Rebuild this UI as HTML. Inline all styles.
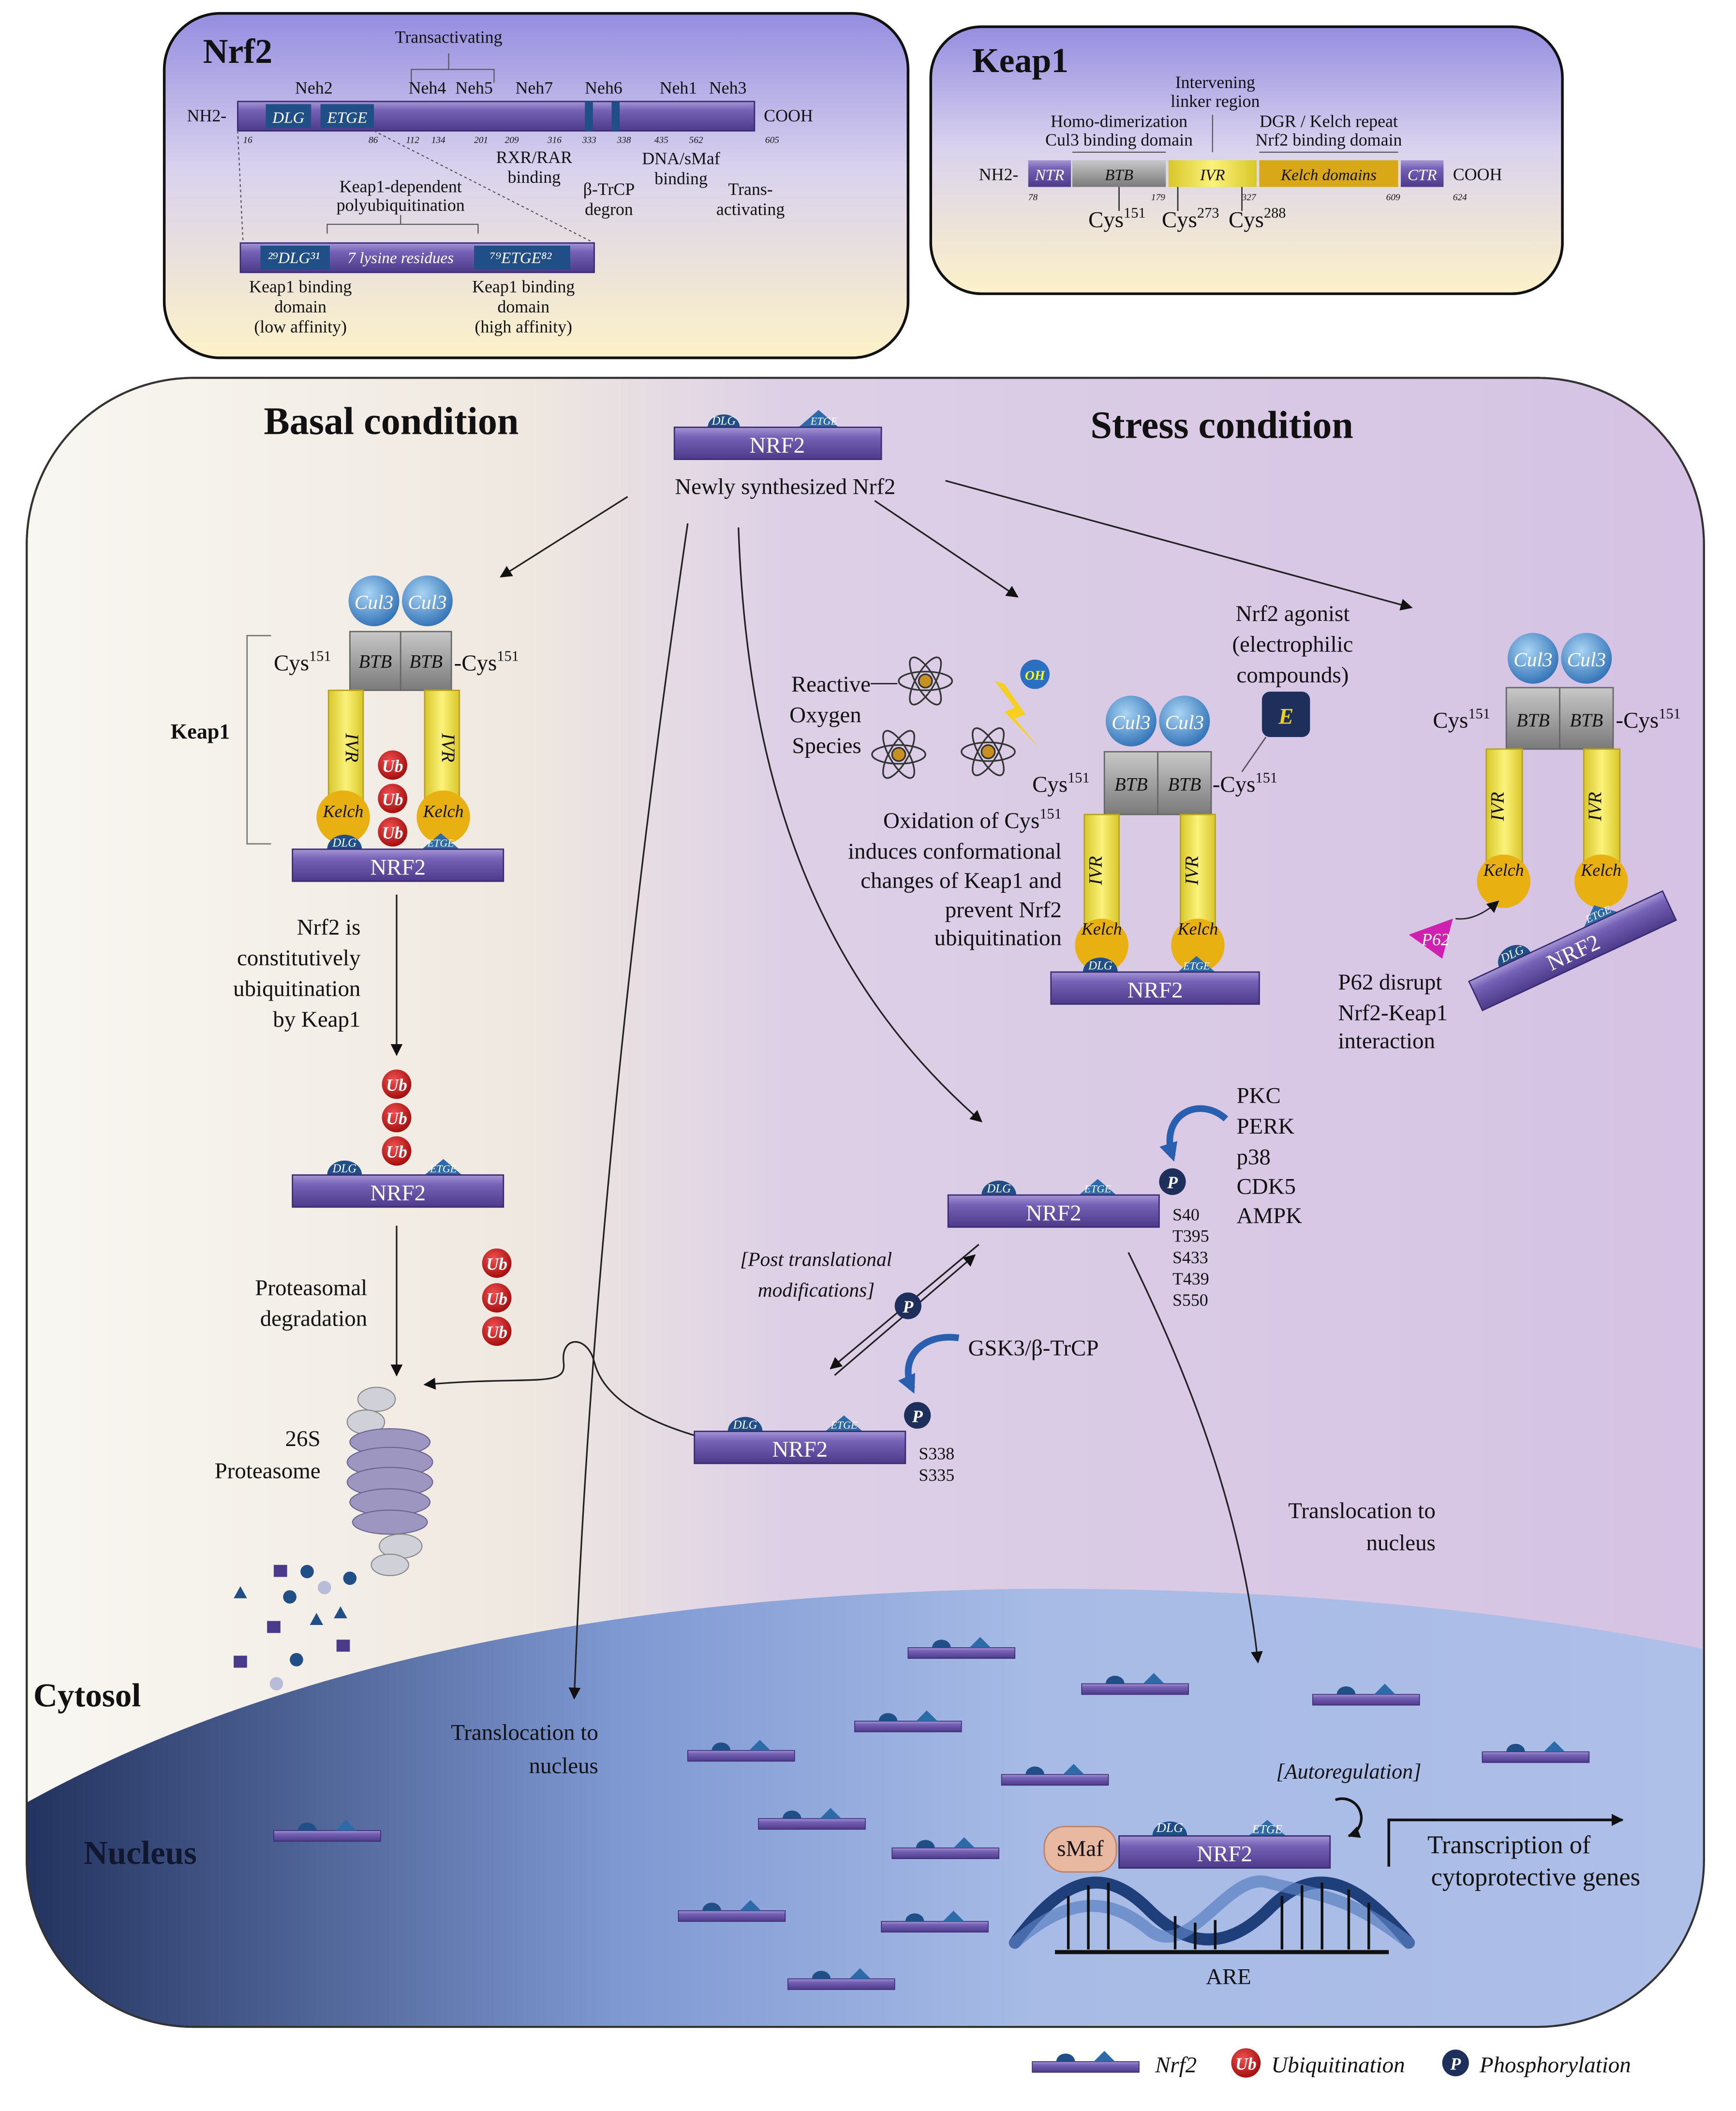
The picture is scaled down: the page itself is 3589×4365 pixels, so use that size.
<!DOCTYPE html>
<html><head><meta charset="utf-8"><style>
html,body{margin:0;padding:0;background:#fff}
svg{display:block}
text{font-family:"Liberation Serif",serif;fill:#111}
.s{font-size:17px}
.t{font-size:13px}
.w{fill:#fff}
.i{font-style:italic}
</style></head><body>
<svg width="3589" height="4365" viewBox="0 0 1300 1581" preserveAspectRatio="none" xmlns="http://www.w3.org/2000/svg">
<defs>
<linearGradient id="gbox" x1="0" y1="0" x2="0" y2="1"><stop offset="0" stop-color="#958de0"/><stop offset="0.45" stop-color="#d9d2ee"/><stop offset="1" stop-color="#fdf2c8"/></linearGradient>
<linearGradient id="gcell" x1="0" y1="0" x2="1" y2="0"><stop offset="0" stop-color="#f9f7f2"/><stop offset="0.3" stop-color="#efe8e0"/><stop offset="0.45" stop-color="#ddd0e6"/><stop offset="1" stop-color="#d5c2e4"/></linearGradient>
<linearGradient id="gnuc" x1="0" y1="0" x2="1" y2="0"><stop offset="0" stop-color="#23335f"/><stop offset="0.35" stop-color="#7e98d2"/><stop offset="0.6" stop-color="#a7bbe6"/><stop offset="1" stop-color="#aebfe8"/></linearGradient>
<linearGradient id="gbar" x1="0" y1="0" x2="0" y2="1"><stop offset="0" stop-color="#a596d6"/><stop offset="0.3" stop-color="#7662b6"/><stop offset="1" stop-color="#4d3a8a"/></linearGradient>
<linearGradient id="gyel" x1="0" y1="0" x2="1" y2="0"><stop offset="0" stop-color="#d8c72a"/><stop offset="0.5" stop-color="#fbf27a"/><stop offset="1" stop-color="#d8c72a"/></linearGradient>
<radialGradient id="gcul" cx="0.4" cy="0.35" r="0.7"><stop offset="0" stop-color="#a8d4f4"/><stop offset="1" stop-color="#2e6fb4"/></radialGradient>
<radialGradient id="gub" cx="0.4" cy="0.35" r="0.7"><stop offset="0" stop-color="#f05050"/><stop offset="1" stop-color="#a00a0a"/></radialGradient>
<linearGradient id="ggray" x1="0" y1="0" x2="0" y2="1"><stop offset="0" stop-color="#c8c8c8"/><stop offset="1" stop-color="#7a7a7a"/></linearGradient>
<marker id="ar" viewBox="0 0 10 10" refX="9" refY="5" markerWidth="9" markerHeight="9" markerUnits="userSpaceOnUse" orient="auto"><path d="M0,0L10,5L0,10z" fill="#111"/></marker>
<marker id="ab" viewBox="0 0 10 10" refX="7" refY="5" markerWidth="14" markerHeight="14" markerUnits="userSpaceOnUse" orient="auto"><path d="M0,0L10,5L0,10z" fill="#2a5fb0"/></marker>
<g id="sn"><rect x="0" y="4" width="80" height="8" fill="url(#gbar)" stroke="#3a2a70" stroke-width="0.6"/><path d="M18,4a7,6 0 0 1 14,0z" fill="#1f4f86"/><path d="M46,4l8,-8l8,8z" fill="#2d6aa8"/></g>
<g id="ub"><circle r="11" fill="url(#gub)"/><text x="0" y="5" text-anchor="middle" font-size="13" class="w i" font-weight="bold">Ub</text></g>
<g id="pp"><circle r="10" fill="#1d2f5a"/><text x="0" y="5" text-anchor="middle" font-size="13" class="w i" font-weight="bold">P</text></g>
<g id="cul"><circle r="19" fill="url(#gcul)"/></g>
</defs>

<rect x="123" y="10" width="557" height="258" rx="42" fill="url(#gbox)" stroke="#111" stroke-width="2"/>
<text x="152" y="47" font-size="26" font-weight="bold">Nrf2</text>
<text x="336" y="32" class="t" text-anchor="middle">Transactivating</text>
<path d="M308,62V52H370V62M336,52V40" fill="none" stroke="#555" stroke-width="0.8"/>
<g class="t" text-anchor="middle"><text x="235" y="70">Neh2</text><text x="320" y="70">Neh4</text><text x="355" y="70">Neh5</text><text x="400" y="70">Neh7</text><text x="452" y="70">Neh6</text><text x="508" y="70">Neh1</text><text x="545" y="70">Neh3</text></g>
<text x="140" y="91" class="t">NH2-</text><text x="572" y="91" class="t">COOH</text>
<rect x="178" y="76" width="387" height="22" fill="url(#gbar)" stroke="#3a2a70"/>
<rect x="199" y="78" width="34" height="18" fill="#1f4f86"/><rect x="240" y="78" width="40" height="18" fill="#1f4f86"/>
<rect x="438" y="76" width="6" height="22" fill="#1f4f86"/><rect x="458" y="76" width="6" height="22" fill="#1f4f86"/>
<text x="216" y="92" font-size="12" class="w i" text-anchor="middle">DLG</text><text x="260" y="92" font-size="12" class="w i" text-anchor="middle">ETGE</text>
<g font-size="7" class="i"><text x="182" y="107">16</text><text x="276" y="107">86</text><text x="304" y="107">112</text><text x="323" y="107">134</text><text x="355" y="107">201</text><text x="378" y="107">209</text><text x="410" y="107">316</text><text x="436" y="107">333</text><text x="462" y="107">338</text><text x="490" y="107">435</text><text x="516" y="107">562</text><text x="573" y="107">605</text></g>
<g class="t" text-anchor="middle"><text x="400" y="122">RXR/RAR</text><text x="400" y="137">binding</text><text x="456" y="146">β-TrCP</text><text x="456" y="161">degron</text><text x="510" y="123">DNA/sMaf</text><text x="510" y="138">binding</text><text x="562" y="146">Trans-</text><text x="562" y="161">activating</text><text x="300" y="144">Keap1-dependent</text><text x="300" y="158">polyubiquitination</text></g>
<path d="M178,98L182,182M280,98L445,182" stroke="#555" stroke-width="0.8" stroke-dasharray="2,2"/>
<path d="M245,175V168H358V175M300,168V161" fill="none" stroke="#555" stroke-width="0.8"/>
<rect x="180" y="182" width="265" height="22" fill="url(#gbar)" stroke="#3a2a70"/>
<rect x="195" y="184" width="52" height="18" fill="#1f4f86"/><rect x="355" y="184" width="72" height="18" fill="#1f4f86"/>
<text x="220" y="197" font-size="12" class="w i" text-anchor="middle">²⁹DLG³¹</text><text x="300" y="197" font-size="12" class="w i" text-anchor="middle">7 lysine residues</text><text x="390" y="197" font-size="12" class="w i" text-anchor="middle">⁷⁹ETGE⁸²</text>
<g class="t" text-anchor="middle"><text x="225" y="219">Keap1 binding</text><text x="225" y="234">domain</text><text x="225" y="249">(low affinity)</text><text x="392" y="219">Keap1 binding</text><text x="392" y="234">domain</text><text x="392" y="249">(high affinity)</text></g>

<rect x="697" y="20" width="473" height="200" rx="38" fill="url(#gbox)" stroke="#111" stroke-width="2"/>
<text x="728" y="54" font-size="26" font-weight="bold">Keap1</text>
<g class="t" text-anchor="middle"><text x="910" y="66">Intervening</text><text x="910" y="80">linker region</text><text x="838" y="95">Homo-dimerization</text><text x="838" y="109">Cul3 binding domain</text><text x="995" y="95">DGR / Kelch repeat</text><text x="995" y="109">Nrf2 binding domain</text></g>
<path d="M803,114H873M943,114H1047M908,86V114" stroke="#555" stroke-width="0.8"/>
<text x="733" y="135" class="t">NH2-</text><text x="1088" y="135" class="t">COOH</text>
<rect x="770" y="120" width="32" height="20" fill="url(#gbar)"/><rect x="803" y="120" width="70" height="20" fill="url(#ggray)"/><rect x="875" y="120" width="66" height="20" fill="url(#gyel)"/><rect x="943" y="120" width="104" height="20" fill="#d8a818"/><rect x="1049" y="120" width="32" height="20" fill="url(#gbar)"/>
<g font-size="12" class="i" text-anchor="middle"><text x="786" y="135" class="w">NTR</text><text x="838" y="135">BTB</text><text x="908" y="135">IVR</text><text x="995" y="135">Kelch domains</text><text x="1065" y="135" class="w">CTR</text></g>
<g font-size="7" class="i"><text x="770" y="150">78</text><text x="862" y="150">179</text><text x="930" y="150">327</text><text x="1038" y="150">609</text><text x="1088" y="150">624</text></g>
<path d="M838,140V158M882,140V158M930,140V158" stroke="#333"/>
<g font-size="17"><text x="815" y="170">Cys<tspan font-size="11" dy="-7">151</tspan></text><text x="870" y="170">Cys<tspan font-size="11" dy="-7">273</tspan></text><text x="920" y="170">Cys<tspan font-size="11" dy="-7">288</tspan></text></g>

<rect x="20" y="283" width="1256" height="1235" rx="125" fill="url(#gcell)" stroke="#333" stroke-width="1.5"/>
<clipPath id="cc"><rect x="20" y="283" width="1256" height="1235" rx="125"/></clipPath>
<path clip-path="url(#cc)" d="M20,1350C200,1250 450,1195 760,1190C1000,1188 1180,1215 1276,1235V1520H20Z" fill="url(#gnuc)"/>
<rect x="20" y="283" width="1256" height="1235" rx="125" fill="none" stroke="#333" stroke-width="1.5"/>

<text x="293" y="325" font-size="29" font-weight="bold" text-anchor="middle">Basal condition</text>
<text x="915" y="328" font-size="29" font-weight="bold" text-anchor="middle">Stress condition</text>

<path d="M530,320a10,8 0 0 1 24,0z" fill="#1f4f86"/><path d="M598,320l15,-13l15,13z" fill="#2d6aa8"/>
<text x="542" y="318" font-size="9" class="w i" text-anchor="middle">DLG</text><text x="617" y="318" font-size="8" class="w i" text-anchor="middle">ETGE</text>
<rect x="505" y="320" width="155" height="24" fill="url(#gbar)" stroke="#3a2a70"/><text x="582" y="339" class="s w" text-anchor="middle">NRF2</text>
<text x="588" y="370" class="s" text-anchor="middle">Newly synthesized Nrf2</text>

<g fill="none" stroke="#222" stroke-width="1.2" marker-end="url(#ar)">
<path d="M470,372L375,432"/>
<path d="M515,392C470,700 440,1000 430,1272"/>
<path d="M553,395C560,600 620,740 735,840"/>
<path d="M655,375L762,447"/>
<path d="M708,360L1057,455"/>
<path d="M297,670V790"/><path d="M297,918V1030"/>
<path d="M845,938C890,1030 930,1130 942,1245"/>
<path d="M520,1075C470,1060 450,1040 445,1020C440,1000 420,1000 422,1020C425,1040 400,1030 318,1037"/>
<path d="M733,932L622,1025"/><path d="M625,1030L730,940" />
</g>

<use href="#cul" x="280" y="450"/><use href="#cul" x="320" y="450"/>
<text x="280" y="456" font-size="15" class="w i" text-anchor="middle">Cul3</text><text x="320" y="456" font-size="15" class="w i" text-anchor="middle">Cul3</text>
<rect x="262" y="473" width="38" height="44" fill="url(#ggray)" stroke="#666"/><rect x="300" y="473" width="38" height="44" fill="url(#ggray)" stroke="#666"/>
<text x="281" y="500" font-size="14" class="i" text-anchor="middle">BTB</text><text x="319" y="500" font-size="14" class="i" text-anchor="middle">BTB</text>
<rect x="246" y="517" width="26" height="85" fill="url(#gyel)" stroke="#b8a020"/><rect x="318" y="517" width="26" height="85" fill="url(#gyel)" stroke="#b8a020"/>
<text x="259" y="560" font-size="14" class="i" text-anchor="middle" transform="rotate(90 259 560)">IVR</text><text x="331" y="560" font-size="14" class="i" text-anchor="middle" transform="rotate(90 331 560)">IVR</text>
<circle cx="257" cy="612" r="20" fill="#e8b010"/><circle cx="332" cy="612" r="20" fill="#e8b010"/>
<text x="257" y="612" font-size="13" class="i" text-anchor="middle">Kelch</text><text x="332" y="612" font-size="13" class="i" text-anchor="middle">Kelch</text>
<use href="#ub" x="294" y="573"/><use href="#ub" x="294" y="598"/><use href="#ub" x="294" y="623"/>
<path d="M245,636a12,10 0 0 1 26,0z" fill="#1f4f86"/><path d="M316,636l14,-12l14,12z" fill="#2d6aa8"/>
<text x="258" y="634" font-size="9" class="w i" text-anchor="middle">DLG</text><text x="330" y="634" font-size="8" class="w i" text-anchor="middle">ETGE</text>
<rect x="219" y="636" width="158" height="24" fill="url(#gbar)" stroke="#3a2a70"/><text x="298" y="655" class="s w" text-anchor="middle">NRF2</text>
<text x="205" y="502" class="s">Cys<tspan font-size="11" dy="-7">151</tspan></text><text x="340" y="502" class="s">-Cys<tspan font-size="11" dy="-7">151</tspan></text>
<path d="M203,476H185V632H203" fill="none" stroke="#777"/>
<text x="150" y="553" font-size="16" font-weight="bold" text-anchor="middle">Keap1</text>
<g class="s" text-anchor="end"><text x="270" y="700">Nrf2 is</text><text x="270" y="723">constitutively</text><text x="270" y="746">ubiquitination</text><text x="270" y="769">by Keap1</text></g>
<use href="#ub" x="297" y="812"/><use href="#ub" x="297" y="837"/><use href="#ub" x="297" y="862"/>
<path d="M245,880a12,10 0 0 1 26,0z" fill="#1f4f86"/><path d="M318,880l14,-12l14,12z" fill="#2d6aa8"/>
<text x="258" y="878" font-size="9" class="w i" text-anchor="middle">DLG</text><text x="332" y="878" font-size="8" class="w i" text-anchor="middle">ETGE</text>
<rect x="219" y="880" width="158" height="24" fill="url(#gbar)" stroke="#3a2a70"/><text x="298" y="899" class="s w" text-anchor="middle">NRF2</text>
<g class="s" text-anchor="end"><text x="275" y="970">Proteasomal</text><text x="275" y="993">degradation</text><text x="240" y="1083">26S</text><text x="240" y="1107">Proteasome</text></g>
<use href="#ub" x="372" y="946"/><use href="#ub" x="372" y="972"/><use href="#ub" x="372" y="997"/>
<g fill="#d0d0d8" stroke="#888" stroke-width="0.8">
<ellipse cx="282" cy="1048" rx="14" ry="9"/><ellipse cx="274" cy="1065" rx="14" ry="9"/>
</g>
<g fill="#9c96c0" stroke="#6a6490" stroke-width="0.8">
<ellipse cx="292" cy="1080" rx="30" ry="10"/><ellipse cx="292" cy="1095" rx="32" ry="11"/><ellipse cx="292" cy="1110" rx="32" ry="11"/><ellipse cx="292" cy="1125" rx="30" ry="10"/><ellipse cx="292" cy="1140" rx="28" ry="9"/>
</g>
<g fill="#d0d0d8" stroke="#888" stroke-width="0.8"><ellipse cx="300" cy="1158" rx="16" ry="9"/><ellipse cx="292" cy="1172" rx="14" ry="8"/></g>
<g fill="#4a3a8a"><rect x="205" y="1172" width="10" height="9"/><rect x="200" y="1214" width="10" height="9"/><rect x="175" y="1240" width="10" height="9"/><rect x="252" y="1228" width="10" height="9"/></g>
<g fill="#1f4f86"><circle cx="230" cy="1177" r="5"/><circle cx="262" cy="1182" r="5"/><circle cx="217" cy="1196" r="5"/><circle cx="222" cy="1243" r="5"/><path d="M175,1197l5,-9l5,9z"/><path d="M232,1217l5,-9l5,9z"/><path d="M250,1212l5,-9l5,9z"/></g>
<g fill="#b8bcd8"><circle cx="243" cy="1189" r="5"/><circle cx="207" cy="1261" r="5"/></g>

<g class="s" text-anchor="end"><text x="652" y="518">Reactive</text><text x="645" y="541">Oxygen</text><text x="645" y="564">Species</text></g>
<path d="M652,512H672" stroke="#222"/>
<g fill="none" stroke="#333" stroke-width="1.2">
<g transform="translate(693,510)"><circle r="5" fill="#c89020"/><ellipse rx="20" ry="7"/><ellipse rx="20" ry="7" transform="rotate(60)"/><ellipse rx="20" ry="7" transform="rotate(-60)"/></g>
<g transform="translate(673,565)"><circle r="5" fill="#c89020"/><ellipse rx="20" ry="7"/><ellipse rx="20" ry="7" transform="rotate(60)"/><ellipse rx="20" ry="7" transform="rotate(-60)"/></g>
<g transform="translate(740,563)"><circle r="5" fill="#c89020"/><ellipse rx="20" ry="7"/><ellipse rx="20" ry="7" transform="rotate(60)"/><ellipse rx="20" ry="7" transform="rotate(-60)"/></g>
</g>
<path d="M745,510L760,530L752,533L778,560L760,538L768,535L752,512z" fill="#f5d020"/>
<circle cx="775" cy="505" r="11" fill="#2a6fc0"/><text x="775" y="509" font-size="10" text-anchor="middle" font-weight="bold" class="i" style="fill:#ff0">OH</text>
<g class="s" text-anchor="middle"><text x="968" y="465">Nrf2 agonist</text><text x="968" y="488">(electrophilic</text><text x="968" y="511">compounds)</text></g>
<rect x="945" y="518" width="36" height="34" rx="6" fill="#1d2f5a"/><text x="963" y="542" font-size="17" text-anchor="middle" style="fill:#f0d020" font-weight="bold" class="i">E</text>
<path d="M948,552L930,578" stroke="#555"/>
<use href="#cul" x="847" y="540"/><use href="#cul" x="887" y="540"/>
<text x="847" y="546" font-size="15" class="w i" text-anchor="middle">Cul3</text><text x="887" y="546" font-size="15" class="w i" text-anchor="middle">Cul3</text>
<rect x="827" y="563" width="40" height="47" fill="url(#ggray)" stroke="#666"/><rect x="867" y="563" width="40" height="47" fill="url(#ggray)" stroke="#666"/>
<text x="847" y="592" font-size="14" class="i" text-anchor="middle">BTB</text><text x="887" y="592" font-size="14" class="i" text-anchor="middle">BTB</text>
<rect x="812" y="610" width="26" height="88" fill="url(#gyel)" stroke="#b8a020"/><rect x="884" y="610" width="26" height="88" fill="url(#gyel)" stroke="#b8a020"/>
<text x="825" y="652" font-size="14" class="i" text-anchor="middle" transform="rotate(-90 825 652)">IVR</text><text x="897" y="652" font-size="14" class="i" text-anchor="middle" transform="rotate(-90 897 652)">IVR</text>
<circle cx="825" cy="708" r="20" fill="#e8b010"/><circle cx="897" cy="708" r="20" fill="#e8b010"/>
<text x="825" y="700" font-size="13" class="i" text-anchor="middle">Kelch</text><text x="897" y="700" font-size="13" class="i" text-anchor="middle">Kelch</text>
<path d="M811,728a12,10 0 0 1 26,0z" fill="#1f4f86"/><path d="M882,728l14,-12l14,12z" fill="#2d6aa8"/>
<text x="824" y="726" font-size="9" class="w i" text-anchor="middle">DLG</text><text x="896" y="726" font-size="8" class="w i" text-anchor="middle">ETGE</text>
<rect x="787" y="728" width="156" height="24" fill="url(#gbar)" stroke="#3a2a70"/><text x="865" y="747" class="s w" text-anchor="middle">NRF2</text>
<text x="773" y="593" class="s">Cys<tspan font-size="11" dy="-7">151</tspan></text><text x="908" y="593" class="s">-Cys<tspan font-size="11" dy="-7">151</tspan></text>
<g class="s" text-anchor="end"><text x="795" y="620">Oxidation of Cys<tspan font-size="11" dy="-7">151</tspan></text><text x="795" y="643">induces conformational</text><text x="795" y="665">changes of Keap1 and</text><text x="795" y="687">prevent Nrf2</text><text x="795" y="708">ubiquitination</text></g>
<use href="#cul" x="1148" y="493"/><use href="#cul" x="1188" y="493"/>
<text x="1148" y="499" font-size="15" class="w i" text-anchor="middle">Cul3</text><text x="1188" y="499" font-size="15" class="w i" text-anchor="middle">Cul3</text>
<rect x="1128" y="515" width="40" height="46" fill="url(#ggray)" stroke="#666"/><rect x="1168" y="515" width="40" height="46" fill="url(#ggray)" stroke="#666"/>
<text x="1148" y="544" font-size="14" class="i" text-anchor="middle">BTB</text><text x="1188" y="544" font-size="14" class="i" text-anchor="middle">BTB</text>
<rect x="1113" y="561" width="27" height="90" fill="url(#gyel)" stroke="#b8a020"/><rect x="1186" y="561" width="27" height="90" fill="url(#gyel)" stroke="#b8a020"/>
<text x="1126" y="604" font-size="14" class="i" text-anchor="middle" transform="rotate(-90 1126 604)">IVR</text><text x="1199" y="604" font-size="14" class="i" text-anchor="middle" transform="rotate(-90 1199 604)">IVR</text>
<circle cx="1126" cy="660" r="20" fill="#e8b010"/><circle cx="1199" cy="660" r="20" fill="#e8b010"/>
<text x="1126" y="656" font-size="13" class="i" text-anchor="middle">Kelch</text><text x="1199" y="656" font-size="13" class="i" text-anchor="middle">Kelch</text>
<text x="1073" y="545" class="s">Cys<tspan font-size="11" dy="-7">151</tspan></text><text x="1210" y="545" class="s">-Cys<tspan font-size="11" dy="-7">151</tspan></text>
<g transform="translate(1100,735) rotate(-25)">
<path d="M25,0a12,10 0 0 1 26,0z" fill="#1f4f86"/><path d="M95,0l14,-12l14,12z" fill="#2d6aa8"/>
<text x="38" y="-2" font-size="9" class="w i" text-anchor="middle">DLG</text><text x="109" y="-2" font-size="8" class="w i" text-anchor="middle">ETGE</text>
<rect x="0" y="0" width="160" height="24" fill="url(#gbar)" stroke="#3a2a70"/><text x="80" y="19" class="s w" text-anchor="middle">NRF2</text></g>
<path d="M1055,700L1088,688L1080,718z" fill="#d020b0"/><text x="1075" y="708" font-size="13" class="w i" text-anchor="middle">P62</text>
<path d="M1090,688Q1105,690 1122,675" fill="none" stroke="#222" marker-end="url(#ar)"/>
<g class="s"><text x="1002" y="741">P62 disrupt</text><text x="1002" y="764">Nrf2-Keap1</text><text x="1002" y="785">interaction</text></g>

<path d="M735,895a12,10 0 0 1 26,0z" fill="#1f4f86"/><path d="M808,895l14,-12l14,12z" fill="#2d6aa8"/>
<text x="748" y="893" font-size="9" class="w i" text-anchor="middle">DLG</text><text x="822" y="893" font-size="8" class="w i" text-anchor="middle">ETGE</text>
<rect x="710" y="895" width="158" height="24" fill="url(#gbar)" stroke="#3a2a70"/><text x="789" y="914" class="s w" text-anchor="middle">NRF2</text>
<use href="#pp" x="878" y="885"/>
<path d="M918,838C898,820 868,835 878,866" fill="none" stroke="#2a5fb0" stroke-width="5" marker-end="url(#ab)"/>
<g class="s"><text x="926" y="826">PKC</text><text x="926" y="849">PERK</text><text x="926" y="872">p38</text><text x="926" y="894">CDK5</text><text x="926" y="916">AMPK</text></g>
<g class="t"><text x="878" y="914">S40</text><text x="878" y="930">T395</text><text x="878" y="946">S433</text><text x="878" y="962">T439</text><text x="878" y="978">S550</text></g>
<g class="i" text-anchor="end" style="font-size:15px"><text x="668" y="948">[Post translational</text><text x="655" y="971">modifications]</text></g>
<use href="#pp" x="680" y="978"/>
<path d="M718,1002C690,998 673,1018 683,1040" fill="none" stroke="#2a5fb0" stroke-width="5" marker-end="url(#ab)"/>
<text x="725" y="1015" class="s">GSK3/β-TrCP</text>
<path d="M545,1072a12,10 0 0 1 26,0z" fill="#1f4f86"/><path d="M618,1072l14,-12l14,12z" fill="#2d6aa8"/>
<text x="558" y="1070" font-size="9" class="w i" text-anchor="middle">DLG</text><text x="632" y="1070" font-size="8" class="w i" text-anchor="middle">ETGE</text>
<rect x="520" y="1072" width="158" height="24" fill="url(#gbar)" stroke="#3a2a70"/><text x="599" y="1091" class="s w" text-anchor="middle">NRF2</text>
<use href="#pp" x="687" y="1060"/>
<g class="t"><text x="688" y="1093">S338</text><text x="688" y="1109">S335</text></g>
<g class="s" text-anchor="end"><text x="1075" y="1137">Translocation to</text><text x="1075" y="1161">nucleus</text><text x="448" y="1303">Translocation to</text><text x="448" y="1328">nucleus</text></g>
<text x="25" y="1278" font-size="25" font-weight="bold">Cytosol</text>
<text x="105" y="1396" font-size="25" font-weight="bold" text-anchor="middle" style="fill:#101830">Nucleus</text>

<use href="#sn" x="680" y="1230"/><use href="#sn" x="810" y="1257"/><use href="#sn" x="983" y="1265"/><use href="#sn" x="640" y="1285"/><use href="#sn" x="515" y="1307"/><use href="#sn" x="1110" y="1308"/><use href="#sn" x="750" y="1325"/><use href="#sn" x="568" y="1358"/><use href="#sn" x="668" y="1380"/><use href="#sn" x="205" y="1367"/><use href="#sn" x="508" y="1427"/><use href="#sn" x="660" y="1435"/><use href="#sn" x="590" y="1478"/>

<g fill="none" stroke-width="9" stroke-linecap="round">
<path d="M760,1455C800,1400 830,1400 860,1430C890,1460 920,1460 950,1430C980,1400 1010,1400 1055,1455" stroke="#1f3f7a"/>
<path d="M760,1455C800,1420 830,1420 860,1445C890,1470 920,1400 950,1410C990,1420 1010,1420 1055,1455" stroke="#5a80c0" opacity="0.7"/>
</g>
<g stroke="#111" stroke-width="2"><path d="M800,1420V1460M815,1412V1460M830,1410V1460M880,1435V1460M895,1440V1460M910,1438V1460M960,1420V1460M975,1412V1460M990,1410V1460M1010,1415V1460M1025,1425V1460"/></g>
<path d="M790,1462H1040" stroke="#111" stroke-width="3"/>
<text x="920" y="1486" class="s" text-anchor="middle">ARE</text>
<rect x="782" y="1368" width="54" height="34" rx="15" fill="#e8b8a0" stroke="#c08060"/><text x="809" y="1390" class="s" text-anchor="middle">sMaf</text>
<path d="M863,1375a12,10 0 0 1 26,0z" fill="#1f4f86"/><path d="M935,1375l14,-12l14,12z" fill="#2d6aa8"/>
<text x="876" y="1372" font-size="10" class="w i" text-anchor="middle">DLG</text><text x="949" y="1373" font-size="9" class="w i" text-anchor="middle">ETGE</text>
<rect x="838" y="1375" width="158" height="24" fill="url(#gbar)" stroke="#3a2a70"/><text x="917" y="1394" class="s w" text-anchor="middle">NRF2</text>
<text x="1010" y="1332" font-size="16" class="i" text-anchor="middle">[Autoregulation]</text>
<path d="M1000,1348A13,13 0 1 1 1010,1375" fill="none" stroke="#111" stroke-width="2" marker-end="url(#ar)"/>
<path d="M1040,1398V1363H1215" fill="none" stroke="#111" stroke-width="2" marker-end="url(#ar)"/>
<g text-anchor="middle" style="font-size:19px"><text x="1130" y="1388">Transcription of</text><text x="1150" y="1412">cytoprotective genes</text></g>

<use href="#sn" x="773" y="1540"/><text x="865" y="1552" font-size="17" class="i">Nrf2</text>
<use href="#ub" x="933" y="1545"/><text x="952" y="1552" font-size="17" class="i">Ubiquitination</text>
<use href="#pp" x="1090" y="1545"/><text x="1108" y="1552" font-size="17" class="i">Phosphorylation</text>
</svg>
</body></html>
